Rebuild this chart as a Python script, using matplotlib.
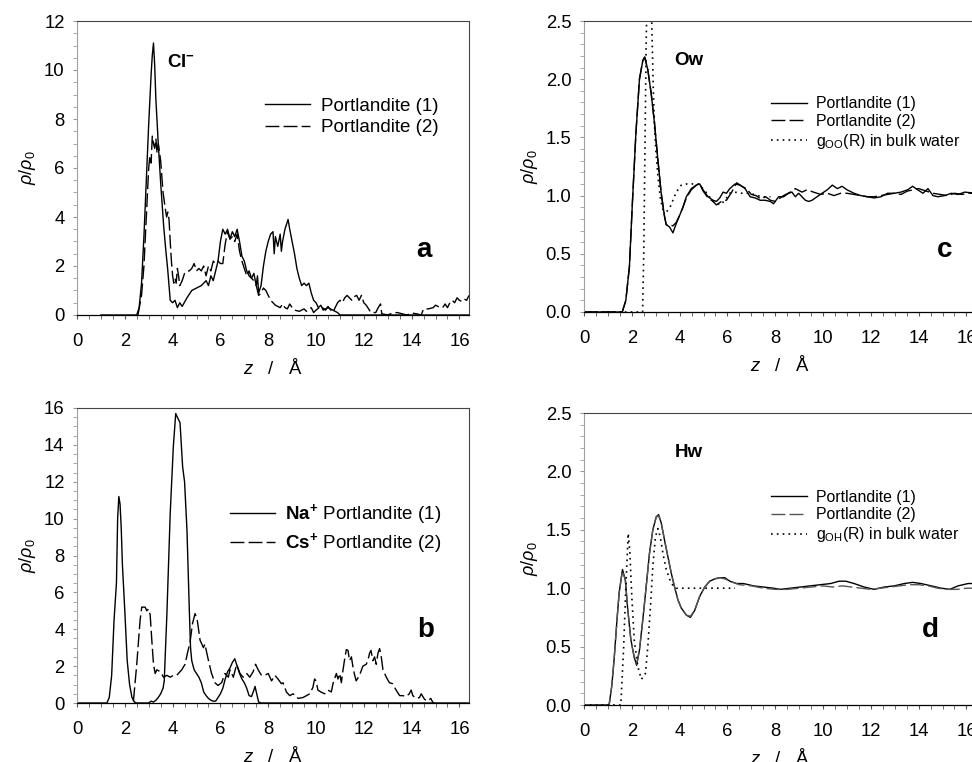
import matplotlib
matplotlib.use("Agg")
import matplotlib.pyplot as plt
from matplotlib.ticker import MultipleLocator, FormatStrFormatter

plt.rcParams['font.family'] = ['Liberation Sans', 'DejaVu Sans']
plt.rcParams['mathtext.fontset'] = 'custom'
plt.rcParams['mathtext.rm'] = 'Liberation Sans'
plt.rcParams['mathtext.it'] = 'Liberation Sans:italic'
plt.rcParams['mathtext.bf'] = 'Liberation Sans:bold'

# --- panel a : Cl- ---
a1_x = [1.0, 2.5, 2.6, 2.7, 2.8, 2.9, 3.0, 3.1, 3.15, 3.2, 3.25, 3.3, 3.4, 3.5, 3.62, 3.7, 3.8, 3.9,
        4.0, 4.1, 4.2, 4.3, 4.4, 4.6, 4.8, 5.0, 5.2, 5.4, 5.5, 5.6, 5.7, 5.8, 5.9, 6.0, 6.1, 6.2,
        6.3, 6.4, 6.5, 6.6, 6.7, 6.8, 6.9, 7.0, 7.1, 7.2, 7.3, 7.4, 7.5, 7.55, 7.6, 7.7, 7.8, 7.9,
        8.0, 8.1, 8.2, 8.25, 8.3, 8.4, 8.5, 8.55, 8.6, 8.7, 8.83, 8.9, 9.0, 9.1, 9.2, 9.3, 9.4,
        9.5, 9.6, 9.7, 9.8, 9.9, 10.0, 10.1, 10.2, 10.3, 10.5, 10.7, 10.9, 11.0, 16.4]
a1_y = [0.0, 0.0, 0.3, 1.3, 3.2, 5.5, 7.8, 9.8, 10.6, 11.1, 10.2, 8.8, 7.0, 5.4, 3.7, 2.8, 1.8, 0.6,
        0.5, 0.6, 0.3, 0.5, 0.35, 0.7, 1.0, 1.1, 1.2, 1.4, 1.2, 1.6, 1.4, 1.8, 2.2, 3.0, 3.5, 3.3,
        3.5, 3.1, 3.4, 3.2, 3.5, 3.0, 2.4, 2.2, 1.8, 1.6, 1.5, 1.7, 1.2, 1.6, 0.9, 1.2, 2.0, 2.6,
        3.0, 3.3, 3.4, 2.5, 3.2, 2.8, 3.3, 2.6, 3.0, 3.5, 3.9, 3.5, 3.0, 2.5, 1.9, 1.5, 1.2,
        1.3, 1.2, 1.3, 0.9, 0.6, 0.5, 0.3, 0.4, 0.2, 0.3, 0.2, 0.1, 0.0, 0.0]

a2_x = [2.55, 2.7, 2.8, 2.9, 3.0, 3.05, 3.1, 3.15, 3.2, 3.25, 3.3, 3.35, 3.4, 3.5, 3.6, 3.7, 3.75,
        3.8, 3.85, 3.9, 3.95, 4.0, 4.05, 4.1, 4.15, 4.2, 4.25, 4.3, 4.4, 4.5, 4.6, 4.7, 4.8, 4.9,
        5.0, 5.1, 5.2, 5.3, 5.4, 5.5, 5.6, 5.7, 5.8, 5.9, 6.0, 6.1, 6.2, 6.3, 6.4, 6.5, 6.6, 6.7,
        6.8, 6.9, 7.0, 7.1, 7.2, 7.3, 7.4, 7.5, 7.6, 7.7, 7.8, 7.9, 8.0, 8.1, 8.2, 8.3, 8.4, 8.5,
        8.6, 8.7, 8.8, 8.9, 9.0, 9.1, 9.3, 9.5, 9.6, 9.8, 9.9, 10.0, 10.2, 10.4, 10.5, 10.7, 10.8,
        10.9, 11.0, 11.1, 11.2, 11.3, 11.4, 11.5, 11.6, 11.7, 11.8, 11.9, 12.0, 12.1, 12.2, 12.3,
        12.5, 12.6, 12.7, 12.75, 13.0, 13.2, 13.4, 13.6, 13.8, 14.0, 14.2, 14.4, 14.5, 14.7, 14.9,
        15.0, 15.1, 15.3, 15.4, 15.5, 15.6, 15.7, 15.8, 15.9, 16.0, 16.1, 16.2, 16.3, 16.4]
a2_y = [0.0, 0.8, 2.0, 4.0, 6.0, 6.5, 6.2, 7.3, 7.0, 6.8, 7.2, 6.6, 7.0, 6.3, 5.0, 4.3, 4.0,
        4.2, 3.9, 3.0, 2.2, 1.6, 1.3, 1.5, 1.3, 1.9, 1.6, 1.2, 1.4, 1.7, 1.8, 1.8, 1.9, 2.1,
        1.8, 1.9, 1.8, 2.0, 1.6, 2.0, 1.8, 2.2, 2.1, 2.2, 2.1, 2.1, 2.9, 3.4, 3.1, 3.2, 3.0, 3.3,
        2.6, 2.2, 1.9, 1.6, 1.8, 1.5, 1.4, 1.2, 0.8, 0.9, 1.1, 1.0, 0.8, 0.6, 0.5, 0.4, 0.35, 0.3,
        0.45, 0.3, 0.25, 0.45, 0.3, 0.2, 0.15, 0.25, 0.15, 0.3, 0.1, 0.2, 0.35, 0.2, 0.35, 0.1, 0.3,
        0.5, 0.6, 0.5, 0.7, 0.8, 0.7, 0.6, 0.75, 0.8, 0.6, 0.8, 0.5, 0.4, 0.25, 0.1,
        0.1, 0.3, 0.45, 0.05, 0.0, 0.08, 0.1, 0.05, 0.0, 0.08, 0.05, 0.0, 0.25, 0.25, 0.3,
        0.4, 0.35, 0.3, 0.45, 0.3, 0.5, 0.6, 0.5, 0.7, 0.6, 0.55, 0.65, 0.6, 0.8]

# --- panel b : Na+ / Cs+ ---
b1_x = [0.0, 1.25, 1.35, 1.45, 1.55, 1.65, 1.7, 1.75, 1.8, 1.85, 1.9, 2.0, 2.1, 2.2, 2.3, 2.4,
        2.5, 3.0, 3.1, 3.2, 3.3, 3.4, 3.5, 3.6, 3.65, 3.76, 3.9, 4.03, 4.13, 4.2, 4.31, 4.42, 4.5,
        4.6, 4.7, 4.75, 4.8, 4.9, 5.0, 5.1, 5.2, 5.3, 5.4, 5.5, 5.6, 5.7, 5.8, 5.9, 6.0, 6.1, 6.2,
        6.3, 6.4, 6.5, 6.6, 6.7, 6.8, 6.9, 7.0, 7.1, 7.2, 7.3, 7.4, 7.45, 7.5, 7.6, 7.7, 16.4]
b1_y = [0.0, 0.0, 0.3, 1.5, 4.5, 6.5, 10.0, 11.2, 10.8, 9.5, 7.5, 5.0, 2.3, 1.0, 0.3, 0.05,
        0.0, 0.0, 0.1, 0.05, 0.15, 0.3, 0.5, 0.8, 1.2, 4.8, 10.3, 13.9, 15.7, 15.5, 15.2, 12.8, 12.0,
        9.4, 5.0, 3.0, 2.3, 1.8, 1.6, 1.4, 1.1, 0.6, 0.4, 0.25, 0.15, 0.1, 0.1, 0.3, 0.5, 0.8, 1.3,
        1.7, 1.9, 2.2, 2.4, 2.0, 1.6, 1.3, 1.1, 0.8, 0.4, 0.35, 0.7, 0.9, 0.6, 0.05, 0.0, 0.0]

b2_x = [2.36, 2.5, 2.64, 2.71, 2.85, 2.92, 2.99, 3.06, 3.13, 3.2, 3.27, 3.34, 3.48, 3.62, 3.76,
        3.9, 4.03, 4.17, 4.38, 4.52, 4.62, 4.73, 4.83, 4.94, 5.03, 5.15, 5.29, 5.35, 5.5, 5.63,
        5.77, 5.9, 6.05, 6.19, 6.33, 6.4, 6.54, 6.68, 6.82, 6.95, 7.1, 7.23, 7.37, 7.47, 7.58,
        7.72, 7.86, 8.0, 8.14, 8.28, 8.41, 8.55, 8.62, 8.76, 8.9, 9.04, 9.25, 9.46, 9.6, 9.74,
        9.87, 9.94, 10.0, 10.08, 10.2, 10.36, 10.5, 10.64, 10.71, 10.85, 10.92, 10.99, 11.06,
        11.13, 11.2, 11.27, 11.34, 11.4, 11.48, 11.54, 11.6, 11.68, 11.82, 11.96, 12.1, 12.17,
        12.24, 12.3, 12.38, 12.45, 12.52, 12.59, 12.66, 12.73, 12.8, 12.94, 13.07, 13.2, 13.35,
        13.5, 13.63, 13.77, 13.9, 13.98, 14.05, 14.19, 14.33, 14.4, 14.54, 14.67, 14.8, 14.88,
        14.95]
b2_y = [0.1, 2.1, 4.5, 5.2, 5.2, 5.0, 5.1, 4.8, 3.4, 2.1, 1.6, 1.8, 1.7, 1.4, 1.5,
        1.4, 1.5, 1.5, 1.8, 2.1, 2.7, 3.3, 4.3, 4.85, 4.5, 3.4, 3.0, 3.2, 2.3, 1.6,
        1.1, 0.95, 1.1, 1.6, 1.4, 1.8, 1.4, 2.1, 1.6, 1.4, 1.6, 1.4, 1.7, 2.1, 1.8,
        1.5, 1.5, 1.6, 1.2, 1.5, 1.3, 1.05, 1.1, 0.6, 0.4, 0.5, 0.25, 0.3, 0.4, 0.5,
        0.85, 1.3, 1.2, 0.7, 0.6, 0.5, 0.7, 0.6, 1.05, 1.6, 1.3, 1.6, 1.1,
        1.8, 2.4, 2.9, 2.85, 2.3, 2.5, 2.0, 1.6, 1.2, 1.5, 2.0, 2.1, 2.3,
        2.7, 2.85, 2.3, 2.5, 2.1, 2.7, 2.95, 2.5, 1.8, 1.4, 1.1, 1.05, 0.7,
        0.4, 0.4, 0.35, 0.5, 0.7, 0.4, 0.25, 0.3, 0.5, 0.2, 0.1, 0.25, 0.05,
        0.0]

# --- panel c : Ow ---
c1_x = [0.0, 1.6, 1.75, 1.9, 2.03, 2.17, 2.32, 2.46, 2.54, 2.67, 2.81, 2.95, 3.09, 3.23, 3.37,
        3.44, 3.58, 3.72, 3.86, 4.0, 4.14, 4.28, 4.49, 4.7, 4.84, 4.98, 5.19, 5.4, 5.54, 5.68,
        5.82, 5.96, 6.1, 6.32, 6.53, 6.74, 6.95, 7.16, 7.37, 7.58, 7.79, 7.93, 8.14, 8.35, 8.56,
        8.7, 8.84, 8.98, 9.12, 9.26, 9.4, 9.54, 9.75, 9.96, 10.18, 10.39, 10.6, 10.8, 11.0, 11.3,
        11.58, 11.86, 12.14, 12.42, 12.7, 12.98, 13.26, 13.54, 13.75, 13.96, 14.18, 14.39, 14.6,
        14.8, 15.09, 15.37, 15.65, 15.93, 16.4]
c1_y = [0.0, 0.0, 0.1, 0.39, 0.96, 1.53, 2.0, 2.16, 2.19, 2.08, 1.88, 1.62, 1.31, 1.02, 0.82,
        0.75, 0.73, 0.68, 0.76, 0.83, 0.9, 0.99, 1.06, 1.09, 1.1, 1.05, 0.99, 0.96, 0.95, 0.98,
        1.03, 1.02, 1.06, 1.1, 1.09, 1.06, 0.99, 0.98, 0.96, 0.96, 0.95, 0.93, 0.99, 0.99, 1.02,
        1.03, 0.99, 1.02, 0.99, 0.96, 0.95, 0.96, 0.99, 1.02, 1.05, 1.09, 1.06, 1.08, 1.05, 1.02,
        1.0, 0.99, 0.98, 0.99, 1.02, 1.02, 1.03, 1.05, 1.08, 1.05, 1.02, 1.06, 1.0,
        0.99, 1.0, 1.02, 1.01, 1.03, 1.02]

c2_x = [0.0, 1.6, 1.75, 1.9, 2.03, 2.17, 2.32, 2.46, 2.54, 2.67, 2.81, 2.95, 3.09, 3.23, 3.37,
        3.44, 3.58, 3.72, 3.86, 4.0, 4.14, 4.28, 4.49, 4.7, 4.84, 4.98, 5.19, 5.4, 5.54, 5.68,
        5.82, 5.96, 6.18, 6.39, 6.6, 6.8, 7.0, 7.2, 7.4, 7.6, 7.8, 8.0, 8.35, 8.63, 8.84, 9.12,
        9.33, 9.6, 9.9, 10.18, 10.46, 10.74, 11.0, 11.3, 11.58, 11.86, 12.14, 12.42, 12.7, 12.98,
        13.26, 13.54, 13.8, 14.0, 14.3, 14.6, 14.9, 15.2, 15.5, 15.8, 16.1, 16.4]
c2_y = [0.0, 0.0, 0.1, 0.39, 0.96, 1.53, 2.0, 2.16, 2.19, 2.08, 1.88, 1.62, 1.31, 1.02, 0.82,
        0.75, 0.75, 0.74, 0.77, 0.83, 0.9, 0.98, 1.05, 1.09, 1.1, 1.04, 0.98, 0.95, 0.92, 0.94,
        0.96, 0.96, 1.03, 1.11, 1.08, 1.06, 1.01, 1.0, 0.97, 0.99, 0.96, 0.95, 1.0, 1.03, 1.06, 1.03,
        1.05, 1.03, 1.01, 1.02, 1.0, 1.02, 1.02, 1.01, 1.0, 0.99, 0.99, 1.0, 1.01, 1.02,
        1.01, 1.04, 1.05, 1.06, 1.04, 1.02, 1.01, 1.0, 1.02, 1.01, 1.02, 1.02]

c3_x = [0.0, 2.45, 2.5, 2.55, 2.6, 2.65, 2.7, 2.75, 2.8, 2.85, 2.9, 2.95, 3.0, 3.1, 3.2, 3.3,
        3.45, 3.6, 3.72, 3.86, 4.07, 4.3, 4.8, 5.1, 5.4, 5.7, 5.9, 6.1, 6.3, 6.6, 6.95, 7.25,
        7.5, 7.8]
c3_y = [0.0, 0.0, 0.5, 1.4, 2.3, 2.85, 3.1, 3.05, 2.75, 2.35, 1.9, 1.6, 1.4, 1.15, 0.97, 0.88,
        0.86, 0.9, 0.96, 1.03, 1.09, 1.1, 1.1, 1.03, 0.95, 0.92, 0.96, 1.02, 1.03, 1.02, 1.02, 1.0,
        0.99, 0.99]

# --- panel d : Hw ---
d1_x = [0.0, 1.05, 1.16, 1.26, 1.38, 1.47, 1.61, 1.73, 1.82, 1.96, 2.1, 2.2, 2.32, 2.46, 2.6,
        2.74, 2.88, 3.02, 3.12, 3.23, 3.37, 3.51, 3.65, 3.79, 3.93, 4.07, 4.28, 4.45, 4.63, 4.84,
        5.05, 5.26, 5.47, 5.68, 5.89, 6.1, 6.39, 6.67, 7.09, 7.5, 7.93, 8.21, 8.63, 9.05, 9.47,
        9.89, 10.32, 10.67, 10.95, 11.3, 11.72, 12.14, 12.56, 12.98, 13.4, 13.75, 14.1, 14.53,
        14.95, 15.3, 15.65, 16.07, 16.4]
d1_y = [0.0, 0.0, 0.16, 0.39, 0.73, 0.96, 1.16, 1.07, 0.84, 0.56, 0.41, 0.34, 0.47, 0.73, 1.01,
        1.3, 1.5, 1.61, 1.63, 1.56, 1.41, 1.27, 1.13, 1.01, 0.9, 0.83, 0.77, 0.75, 0.81, 0.93,
        1.01, 1.06, 1.08, 1.09, 1.09, 1.06, 1.04, 1.04, 1.02, 1.01, 1.0, 0.99, 1.0, 1.01, 1.02,
        1.03, 1.04, 1.06, 1.06, 1.04, 1.01, 0.99, 1.01, 1.02, 1.04, 1.05, 1.04, 1.02,
        1.0, 0.99, 1.02, 1.04, 1.04]

d2_x = [0.0, 1.05, 1.16, 1.26, 1.38, 1.47, 1.61, 1.73, 1.82, 1.96, 2.1, 2.2, 2.32, 2.46, 2.6,
        2.74, 2.88, 3.02, 3.12, 3.23, 3.37, 3.51, 3.65, 3.79, 3.93, 4.07, 4.28, 4.45, 4.63, 4.84,
        5.05, 5.26, 5.47, 5.68, 5.89, 6.1, 6.5, 7.0, 7.5, 8.0, 8.5, 9.0, 9.5, 10.0, 10.4, 10.8,
        11.2, 11.6, 12.0, 12.4, 12.8, 13.2, 13.6, 14.0, 14.4, 14.8, 15.2, 15.6, 16.0, 16.4]
d2_y = [0.0, 0.0, 0.16, 0.39, 0.73, 0.96, 1.15, 1.07, 0.84, 0.56, 0.41, 0.35, 0.47, 0.73, 1.01,
        1.3, 1.5, 1.61, 1.62, 1.56, 1.41, 1.27, 1.13, 1.01, 0.9, 0.83, 0.77, 0.76, 0.81, 0.93,
        1.01, 1.06, 1.08, 1.09, 1.08, 1.06, 1.03, 1.02, 1.0, 0.99, 0.99, 1.0, 1.01, 1.02, 1.01, 1.02,
        1.01, 1.0, 0.99, 1.0, 1.01, 1.02, 1.03, 1.03, 1.02, 1.0, 0.99, 0.99, 1.0, 1.0]

d3_x = [0.0, 1.54, 1.66, 1.75, 1.85, 1.92, 2.0, 2.1, 2.25, 2.4, 2.57, 2.67, 2.78, 2.88, 2.99,
        3.09, 3.19, 3.3, 3.44, 3.65, 3.86, 6.32]
d3_y = [0.0, 0.0, 0.5, 1.01, 1.47, 1.3, 0.93, 0.56, 0.33, 0.22, 0.27, 0.5, 0.84, 1.19, 1.44,
        1.51, 1.44, 1.3, 1.16, 1.04, 1.0, 1.0]

W, H = 972, 762
fig = plt.figure(figsize=(W / 100, H / 100), dpi=100)


def make_axes(left, top, right, bottom):
    return fig.add_axes([left / W, 1 - bottom / H, (right - left) / W, (bottom - top) / H])


def style(ax, ymax, ymajor, yminor, yfmt):
    ax.set_xlim(0, 16.4)
    ax.set_ylim(0, ymax)
    ax.xaxis.set_major_locator(MultipleLocator(2))
    ax.xaxis.set_minor_locator(MultipleLocator(0.5))
    ax.yaxis.set_major_locator(MultipleLocator(ymajor))
    ax.yaxis.set_minor_locator(MultipleLocator(yminor))
    ax.yaxis.set_major_formatter(FormatStrFormatter(yfmt))
    for s in ['top', 'right']:
        ax.spines[s].set_color('#444444')
        ax.spines[s].set_linewidth(0.8)
    ax.spines['left'].set_color('#a0a0a0')
    ax.spines['left'].set_linewidth(0.8)
    ax.spines['bottom'].set_color('black')
    ax.spines['bottom'].set_linewidth(0.9)
    ax.tick_params(axis='both', which='both', direction='out', labelsize=13.3)
    ax.tick_params(axis='x', which='both', length=3, color='#555555', pad=10)
    ax.tick_params(axis='y', which='both', length=3, color='#999999', pad=6)
    ax.set_xlabel(r'$z$   /   Å', fontsize=13.3, labelpad=6)
    ax.set_ylabel(r'$\rho/\rho_0$', fontsize=13, labelpad=4)


ax_a = make_axes(77, 21, 469, 315)
ax_b = make_axes(77, 408, 469, 703)
ax_c = make_axes(584, 21, 976, 312)
ax_d = make_axes(584, 413, 976, 705)

dash = (10, 3)
dot = (1, 2.5)

# a
ax_a.plot(a1_x, a1_y, color='black', lw=1.0, label='Portlandite (1)')
ax_a.plot(a2_x, a2_y, color='black', lw=1.0, dashes=dash, label='Portlandite (2)')
style(ax_a, 12, 2, 0.5, '%d')
ax_a.legend(loc='upper left', bbox_to_anchor=(0.48, 0.74), frameon=False, fontsize=13.5,
            handlelength=2.4, handletextpad=0.6, labelspacing=0.25, borderpad=0, borderaxespad=0)
ax_a.text(4.35, 10.3, r'$\mathbf{Cl^{-}}$', fontsize=13.5, ha='center', va='center')
ax_a.text(14.5, 2.65, 'a', fontsize=20, fontweight='bold', ha='center', va='center')

# b
ax_b.plot(b1_x, b1_y, color='black', lw=1.0, label=r'$\mathbf{Na^{+}}$ Portlandite (1)')
ax_b.plot(b2_x, b2_y, color='black', lw=1.0, dashes=dash, label=r'$\mathbf{Cs^{+}}$ Portlandite (2)')
style(ax_b, 16, 2, 0.5, '%d')
ax_b.legend(loc='upper left', bbox_to_anchor=(0.39, 0.68), frameon=False, fontsize=13.5,
            handlelength=2.4, handletextpad=0.55, labelspacing=0.25, borderpad=0, borderaxespad=0)
ax_b.text(14.6, 3.96, 'b', fontsize=20, fontweight='bold', ha='center', va='center')

# c
ax_c.plot(c1_x, c1_y, color='black', lw=1.0, label='Portlandite (1)')
ax_c.plot(c2_x, c2_y, color='black', lw=1.0, dashes=dash, label='Portlandite (2)')
ax_c.plot(c3_x, c3_y, color='black', lw=1.2, dashes=dot, label=r'g$_{\mathrm{OO}}$(R) in bulk water')
style(ax_c, 2.5, 0.5, 0.1, '%.1f')
ax_c.legend(loc='upper left', bbox_to_anchor=(0.477, 0.742), frameon=False, fontsize=11.4,
            handlelength=2.3, handletextpad=0.55, labelspacing=0.18, borderpad=0, borderaxespad=0)
ax_c.text(4.38, 2.16, 'Ow', fontsize=13.5, fontweight='bold', ha='center', va='center')
ax_c.text(15.1, 0.53, 'c', fontsize=20, fontweight='bold', ha='center', va='center')

# d
ax_d.plot(d1_x, d1_y, color='black', lw=1.0, label='Portlandite (1)')
ax_d.plot(d2_x, d2_y, color='#555555', lw=1.0, dashes=dash, label='Portlandite (2)')
ax_d.plot(d3_x, d3_y, color='black', lw=1.2, dashes=dot, label=r'g$_{\mathrm{OH}}$(R) in bulk water')
style(ax_d, 2.5, 0.5, 0.1, '%.1f')
ax_d.legend(loc='upper left', bbox_to_anchor=(0.477, 0.738), frameon=False, fontsize=11.4,
            handlelength=2.3, handletextpad=0.55, labelspacing=0.18, borderpad=0, borderaxespad=0)
ax_d.text(4.38, 2.16, 'Hw', fontsize=13.5, fontweight='bold', ha='center', va='center')
ax_d.text(14.5, 0.64, 'd', fontsize=20, fontweight='bold', ha='center', va='center')

fig.savefig('out.png', dpi=100)
